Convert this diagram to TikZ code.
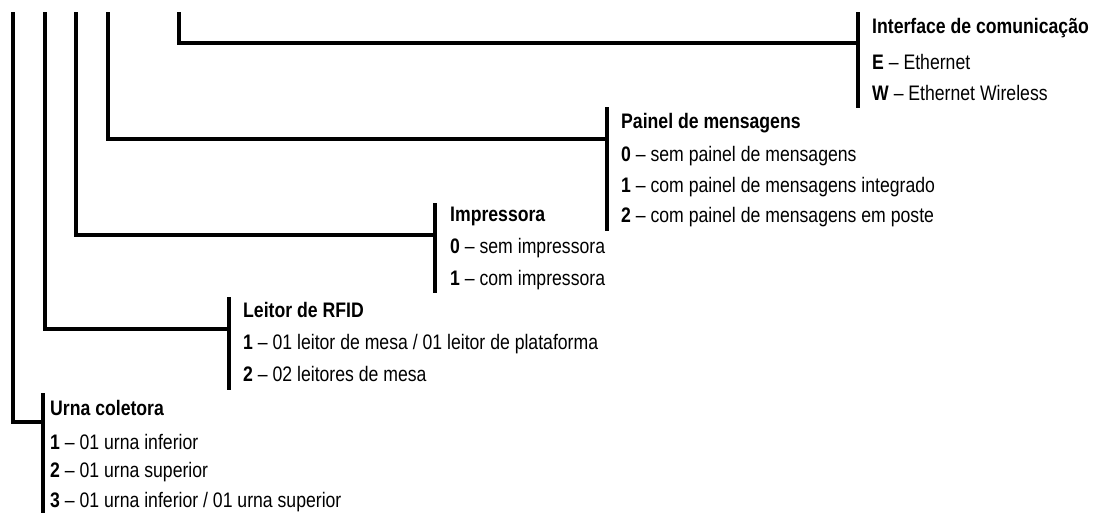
\documentclass[tikz,border=0pt]{standalone}
\usepackage{fontspec}
\setmainfont{Liberation Sans}[FakeStretch=0.84]
\usetikzlibrary{positioning}

\tikzset{
  wire/.style={line width=4pt},
  head/.style={anchor=west, inner sep=0pt, font=\fontsize{21}{25}\selectfont\bfseries},
  item/.style={anchor=west, inner sep=0pt, font=\fontsize{21}{25}\selectfont},
}

\begin{document}
\begin{tikzpicture}[x=1pt,y=-1pt]
\useasboundingbox (0,0) rectangle (1099,515);

\coordinate (s1) at (13,12);
\coordinate (s2) at (45,12);
\coordinate (s3) at (76,12);
\coordinate (s4) at (108,12);
\coordinate (s5) at (179,12);

\node[head] (ifc) at (872,28) {Interface de comunicação};
\node[item, below=34pt of ifc.west, anchor=west] (ifc1) {\textbf{E} – Ethernet};
\node[item, below=31pt of ifc1.west, anchor=west] (ifc2) {\textbf{W} – Ethernet Wireless};
\coordinate (ifct) at (858,12);
\coordinate (ifcb) at (858,108);
\coordinate (ifcj) at (858,43);

\node[head] (pnl) at (621,123) {Painel de mensagens};
\node[item, below=33pt of pnl.west, anchor=west] (pnl0) {\textbf{0} – sem painel de mensagens};
\node[item, below=31pt of pnl0.west, anchor=west] (pnl1) {\textbf{1} – com painel de mensagens integrado};
\node[item, below=30pt of pnl1.west, anchor=west] (pnl2) {\textbf{2} – com painel de mensagens em poste};
\coordinate (pnlt) at (607,107);
\coordinate (pnlb) at (607,231);
\coordinate (pnlj) at (607,139);

\node[head] (imp) at (450,216) {Impressora};
\node[item, below=32pt of imp.west, anchor=west] (imp0) {\textbf{0} – sem impressora};
\node[item, below=32pt of imp0.west, anchor=west] (imp1) {\textbf{1} – com impressora};
\coordinate (impt) at (435,203);
\coordinate (impb) at (435,293);
\coordinate (impj) at (435,235);

\node[head] (rfid) at (243,310) {Leitor de RFID};
\node[item, below=34pt of rfid.west, anchor=west] (rfid1) {\textbf{1} – 01 leitor de mesa / 01 leitor de plataforma};
\node[item, below=30pt of rfid1.west, anchor=west] (rfid2) {\textbf{2} – 02 leitores de mesa};
\coordinate (rfidt) at (229,297);
\coordinate (rfidb) at (229,390);
\coordinate (rfidj) at (229,329);

\node[head] (urna) at (50,408) {Urna coletora};
\node[item, below=34pt of urna.west, anchor=west] (urna1) {\textbf{1} – 01 urna inferior};
\node[item, below=30pt of urna1.west, anchor=west] (urna2) {\textbf{2} – 01 urna superior};
\node[item, below=30pt of urna2.west, anchor=west] (urna3) {\textbf{3} – 01 urna inferior / 01 urna superior};
\coordinate (urnat) at (43,393);
\coordinate (urnab) at (43,513);
\coordinate (urnaj) at (43,422);

\draw[wire] (ifct) -- (ifcb);
\draw[wire] (pnlt) -- (pnlb);
\draw[wire] (impt) -- (impb);
\draw[wire] (rfidt) -- (rfidb);
\draw[wire] (urnat) -- (urnab);

\draw[wire] (s5) |- (ifcj);
\draw[wire] (s4) |- (pnlj);
\draw[wire] (s3) |- (impj);
\draw[wire] (s2) |- (rfidj);
\draw[wire] (s1) |- (urnaj);
\end{tikzpicture}
\end{document}
